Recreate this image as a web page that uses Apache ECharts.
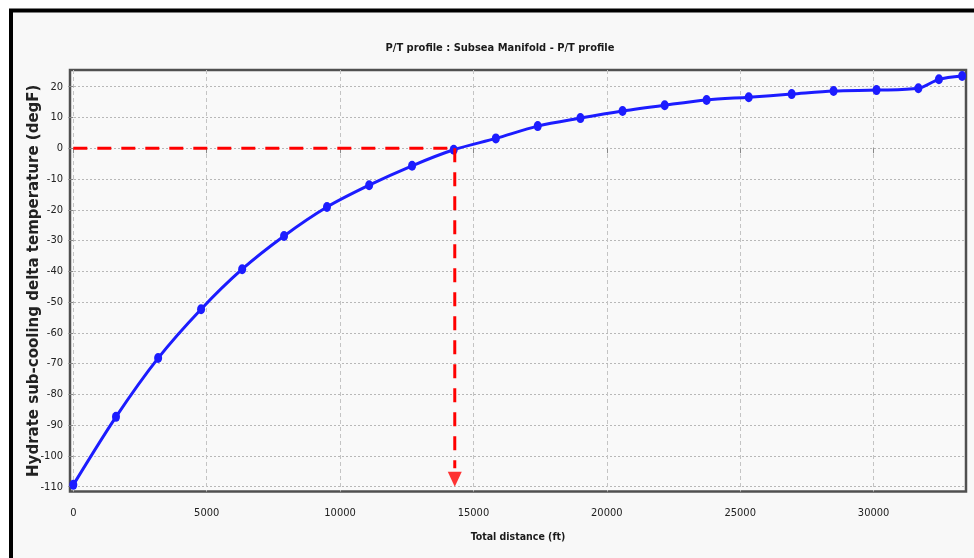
<!DOCTYPE html>
<html>
<head>
<meta charset="utf-8">
<script src="https://cdn.jsdelivr.net/npm/echarts@6/dist/echarts.min.js"></script>
<style>
html,body{margin:0;padding:0;background:#ffffff;}
#chart{width:974px;height:558px;}
</style>
</head>
<body>
<div id="chart"></div>
<script>
// Data
const distance = [0, 1600, 3180, 4790, 6330, 7900, 9510, 11090, 12700, 14260, 15840, 17410, 19010, 20590, 22170, 23740, 25320, 26930, 28500, 30110, 31680, 32450, 33320];
const deltaT = [-109.4, -87.3, -68.2, -52.3, -39.3, -28.5, -19.1, -12.0, -5.7, -0.5, 3.2, 7.2, 9.8, 12.1, 14.0, 15.7, 16.6, 17.6, 18.6, 18.9, 19.5, 22.4, 23.5];
const xTicks = [0, 5000, 10000, 15000, 20000, 25000, 30000];
const yTicks = [-110, -100, -90, -80, -70, -60, -50, -40, -30, -20, -10, 0, 10, 20];
const crossDistance = 14300;
const hydrateLine = [[0, 0], [crossDistance, 0]];
const dropLine = [[crossDistance, 0], [crossDistance, -104]];
const arrowPoint = [[crossDistance, -107.6]];

const narrow = "'Liberation Sans Narrow', 'DejaVu Sans Condensed', 'Liberation Sans', sans-serif";

const chart = echarts.init(document.getElementById('chart'), null, {renderer: 'canvas'});
chart.setOption({
  backgroundColor: '#ffffff',
  animation: false,
  graphic: [{
    type: 'rect',
    z: -10,
    shape: {x: 11, y: 10.5, width: 1000, height: 600},
    style: {fill: '#f8f8f8', stroke: '#000000', lineWidth: 4}
  }],
  title: {
    text: 'P/T profile : Subsea Manifold - P/T profile',
    left: 495, top: 38, textAlign: 'center',
    textStyle: {fontFamily: narrow, fontWeight: 'bold', fontSize: 11, color: '#1a1a1a'}
  },
  grid: {
    left: 70, top: 70, width: 896, height: 421.5,
    show: true, borderColor: '#505050', borderWidth: 2.5, backgroundColor: '#f9f9f9'
  },
  xAxis: {
    type: 'value', min: -124, max: 33465,
    name: 'Total distance (ft)', nameLocation: 'middle', nameGap: 40, nameMoveOverlap: false,
    nameTextStyle: {fontFamily: narrow, fontWeight: 'bold', fontSize: 10.5, color: '#1a1a1a'},
    axisLine: {show: false},
    axisTick: {show: true, length: 5, lineStyle: {color: '#888'}, customValues: xTicks},
    axisLabel: {customValues: xTicks, fontFamily: narrow, fontSize: 11, color: '#222', margin: 16,
      formatter: v => String(v)},
    splitLine: {show: true, lineStyle: {color: '#c4c4c4', type: [4, 3], width: 1}}
  },
  yAxis: {
    type: 'value', min: -111.56, max: 25.43,
    name: 'Hydrate sub-cooling delta temperature (degF)', nameLocation: 'middle', nameGap: 28, nameMoveOverlap: false,
    nameTextStyle: {fontFamily: "'DejaVu Sans', sans-serif", fontWeight: 'bold', fontSize: 15, color: '#222'},
    axisLine: {show: false},
    axisTick: {show: true, length: 5, lineStyle: {color: '#888'}, customValues: yTicks},
    axisLabel: {customValues: yTicks, fontFamily: narrow, fontSize: 11, color: '#222', margin: 7,
      formatter: v => String(v)},
    splitLine: {show: true, lineStyle: {color: '#b8b8b8', type: [2, 2], width: 1}}
  },
  series: [
    {
      type: 'line', smooth: 0.3,
      data: distance.map((d, i) => [d, deltaT[i]]),
      symbol: 'circle', symbolSize: [8, 10],
      lineStyle: {color: '#1c1cff', width: 3},
      itemStyle: {color: '#1c1cff'},
      clip: false, z: 3
    },
    {
      type: 'line', data: hydrateLine, symbol: 'none',
      lineStyle: {color: '#ff0000', width: 3, type: [14, 10]}, z: 4
    },
    {
      type: 'line', data: dropLine, symbol: 'none',
      lineStyle: {color: '#ff0000', width: 3, type: [14, 10]}, z: 4
    },
    {
      type: 'scatter', data: arrowPoint, symbol: 'triangle', symbolRotate: 180,
      symbolSize: [14, 15], itemStyle: {color: '#ff0000'}, z: 4
    }
  ]
});
</script>
</body>
</html>
